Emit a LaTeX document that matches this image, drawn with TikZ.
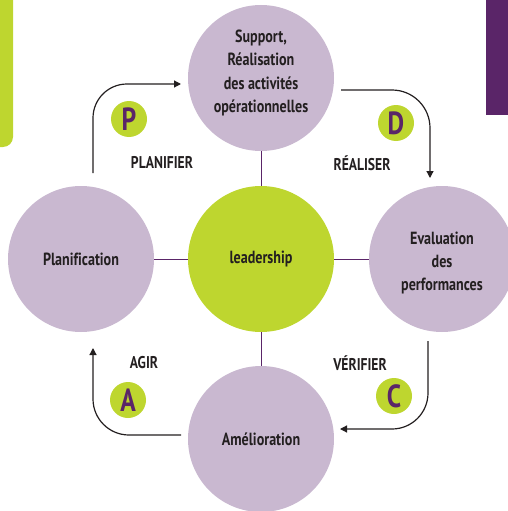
\documentclass[tikz,border=0pt]{standalone}
\usepackage{fontspec}
\setmainfont{PT Sans}[FakeStretch=0.8, Ligatures=NoCommon]
\usetikzlibrary{arrows.meta}
\definecolor{lav}{HTML}{C9B8D0}
\definecolor{lime}{HTML}{BED62F}
\definecolor{plum}{HTML}{5A2568}
\definecolor{ink}{HTML}{231F20}
\tikzset{
  bubble/.style={circle, fill=lav, minimum size=146pt, inner sep=0pt},
  hub/.style={bubble, fill=lime},
  bubtext/.style={align=center, text=ink, inner sep=0pt,
    font=\fontsize{17.6}{23.3}\selectfont\bfseries},
  link/.style={draw=plum, line width=1pt},
  cycle/.style={draw=ink, line width=1.2pt, -{Triangle[length=7pt,width=7pt]}},
  badge/.style={circle, fill=lime, minimum size=36pt, inner sep=0pt, text=plum,
    font=\fontsize{32}{32}\selectfont\bfseries},
  phase/.style={text=ink, font=\fontsize{17}{20}\selectfont\bfseries, inner sep=0pt}
}
\begin{document}
\begin{tikzpicture}[x=1pt,y=-1pt]
\useasboundingbox (0,0) rectangle (508,511);
% side bars
\fill[lime, rounded corners=10pt] (-20,-20) rectangle (13,147);
\fill[plum] (486,0) rectangle (520,115);
% circles
\node[bubble] (top) at (261,78) {};
\node[bubble] (left) at (81,259) {};
\node[hub] (mid) at (261,259) {};
\node[bubble] (right) at (442,259) {};
\node[bubble] (bot) at (261,439) {};
% circle texts
\node[bubtext] (ttop) at ([yshift=5pt]top.center) {Support,\\Réalisation\\des activités\\opérationnelles};
\node[bubtext] (tleft) at (left.center) {Planification};
\node[bubtext] (tmid) at (mid.center) {leadership};
\node[bubtext] (tright) at ([yshift=-4pt]right.center) {Evaluation\\des\\performances};
\node[bubtext] (tbot) at (bot.center) {Amélioration};
% links
\draw[link] (top) -- (mid);
\draw[link] (left) -- (mid);
\draw[link] (mid) -- (right);
\draw[link] (mid) -- (bot);
% cycle arrows
\coordinate (ps) at (93,173);  \coordinate (pt) at (181,84);
\coordinate (ds) at (341,90);  \coordinate (dt) at (430,178);
\coordinate (cs) at (428,341); \coordinate (ct) at (340,429);
\coordinate (as) at (181,435); \coordinate (at) at (93,348);
\draw[cycle, rounded corners=34pt] (ps) |- (pt);
\draw[cycle, rounded corners=38pt] (ds) -| (dt);
\draw[cycle, rounded corners=36pt] (cs) |- (ct);
\draw[cycle, rounded corners=36pt] (as) -| (at);
% badges
\node[badge] (bp) at (129,119) {P};
\node[badge] (bd) at (396,123) {D};
\node[badge] (bc) at (394,396) {C};
\node[badge] (ba) at (128,400) {A};
% phase labels
\node[phase] (lp) at (162,163) {PLANIFIER};
\node[phase] (ld) at (362,163) {RÉALISER};
\node[phase] (la) at (144,363) {AGIR};
\node[phase] (lv) at (360,363) {VÉRIFIER};
\end{tikzpicture}
\end{document}
